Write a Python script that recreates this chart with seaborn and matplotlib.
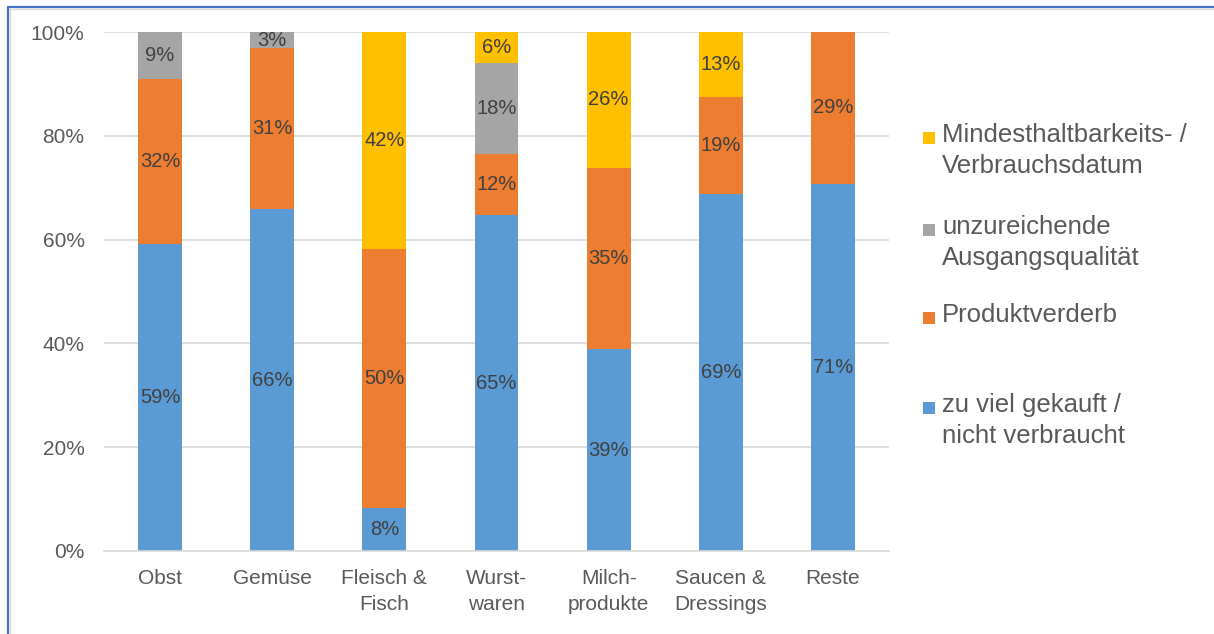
import numpy as np
import pandas as pd
import matplotlib
matplotlib.use("Agg")
import matplotlib.pyplot as plt
import seaborn as sns
from matplotlib.patches import Rectangle
from matplotlib.lines import Line2D

# ---- data ----
categories = ["Obst", "Gemüse", "Fleisch &\nFisch", "Wurst-\nwaren",
              "Milch-\nprodukte", "Saucen &\nDressings", "Reste"]
zu_viel = [59.1, 65.8, 8.3, 64.7, 38.9, 68.8, 70.8]
verderb = [31.8, 31.1, 49.9, 11.8, 34.9, 18.6, 29.2]
qualitaet = [9.1, 3.1, 0.0, 17.5, 0.0, 0.0, 0.0]
mhd = [0.0, 0.0, 41.8, 6.0, 26.2, 12.6, 0.0]
series_names = ["zu viel gekauft /\nnicht verbraucht", "Produktverderb",
                "unzureichende\nAusgangsqualität",
                "Mindesthaltbarkeits- /\nVerbrauchsdatum"]
series_colors = ["#5B9BD5", "#ED7D31", "#A5A5A5", "#FFC000"]
y_ticks = [0, 20, 40, 60, 80, 100]

sns.set_theme(style="white")
plt.rcParams["font.family"] = ["Liberation Sans", "DejaVu Sans"]

series = [zu_viel, verderb, qualitaet, mhd]
df = pd.DataFrame({"Kategorie": categories})
for name, vals in zip(series_names, series):
    df[name] = vals

W, H = 1214, 634
fig = plt.figure(figsize=(W / 100, H / 100), dpi=100)
ax = fig.add_axes([104 / W, 1 - 551 / H, (889 - 104) / W, (551 - 32) / H])

# stacked bars: draw cumulative totals from tallest to shortest
cum = np.cumsum(np.array(series), axis=0)
for i in reversed(range(len(series))):
    sns.barplot(x=df["Kategorie"], y=cum[i], color=series_colors[i],
                saturation=1, width=0.39, errorbar=None, ax=ax, zorder=2,
                linewidth=0, edgecolor="none")

# data labels
for i, vals in enumerate(series):
    base = cum[i] - np.array(vals)
    for j, v in enumerate(vals):
        if v > 0:
            ax.text(j, base[j] + v / 2, f"{round(v):.0f}%", ha="center",
                    va="center", fontsize=14.5, color="#404040", zorder=3)

ax.set_ylim(0, 100)
ax.set_xlim(-0.5, len(categories) - 0.5)
ax.set_yticks(y_ticks)
ax.set_yticklabels([f"{t}%" for t in y_ticks])
ax.set_xlabel("")
ax.set_ylabel("")
ax.yaxis.grid(True, color="#D9D9D9", lw=1.2)
ax.set_axisbelow(True)
for s in ["top", "right", "left"]:
    ax.spines[s].set_visible(False)
ax.spines["bottom"].set_color("#D9D9D9")
ax.spines["bottom"].set_linewidth(1.2)
ax.tick_params(axis="both", length=0, colors="#595959", labelsize=15)
ax.tick_params(axis="x", pad=13)
ax.tick_params(axis="y", pad=14)
for lbl in ax.get_xticklabels():
    lbl.set_linespacing(1.45)

# legend (drawn manually, top-aligned entries, reversed order)
leg_rows = [138, 230, 318, 408]
for k, idx in enumerate(reversed(range(len(series)))):
    yc = leg_rows[k]
    fig.add_artist(Rectangle((923 / W, 1 - (yc + 6) / H), 12 / W, 12 / H,
                             transform=fig.transFigure,
                             facecolor=series_colors[idx], edgecolor="none"))
    fig.text(942 / W, 1 - (yc - 15) / H, series_names[idx], ha="left",
             va="top", fontsize=18.5, color="#595959", linespacing=1.38)

# frame lines (top and left)
fig.add_artist(Line2D([9 / W, 1], [1 - 9 / H, 1 - 9 / H], color="#D9D9D9",
                      lw=1.0, transform=fig.transFigure))
fig.add_artist(Line2D([10 / W, 10 / W], [0, 1 - 9 / H], color="#D9D9D9",
                      lw=1.0, transform=fig.transFigure))
fig.add_artist(Line2D([8 / W, 1], [1 - 7 / H, 1 - 7 / H], color="#4472C4",
                      lw=1.6, transform=fig.transFigure))
fig.add_artist(Line2D([8 / W, 8 / W], [0, 1 - 7 / H], color="#4472C4",
                      lw=1.6, transform=fig.transFigure))

fig.savefig("out.png", dpi=100)
